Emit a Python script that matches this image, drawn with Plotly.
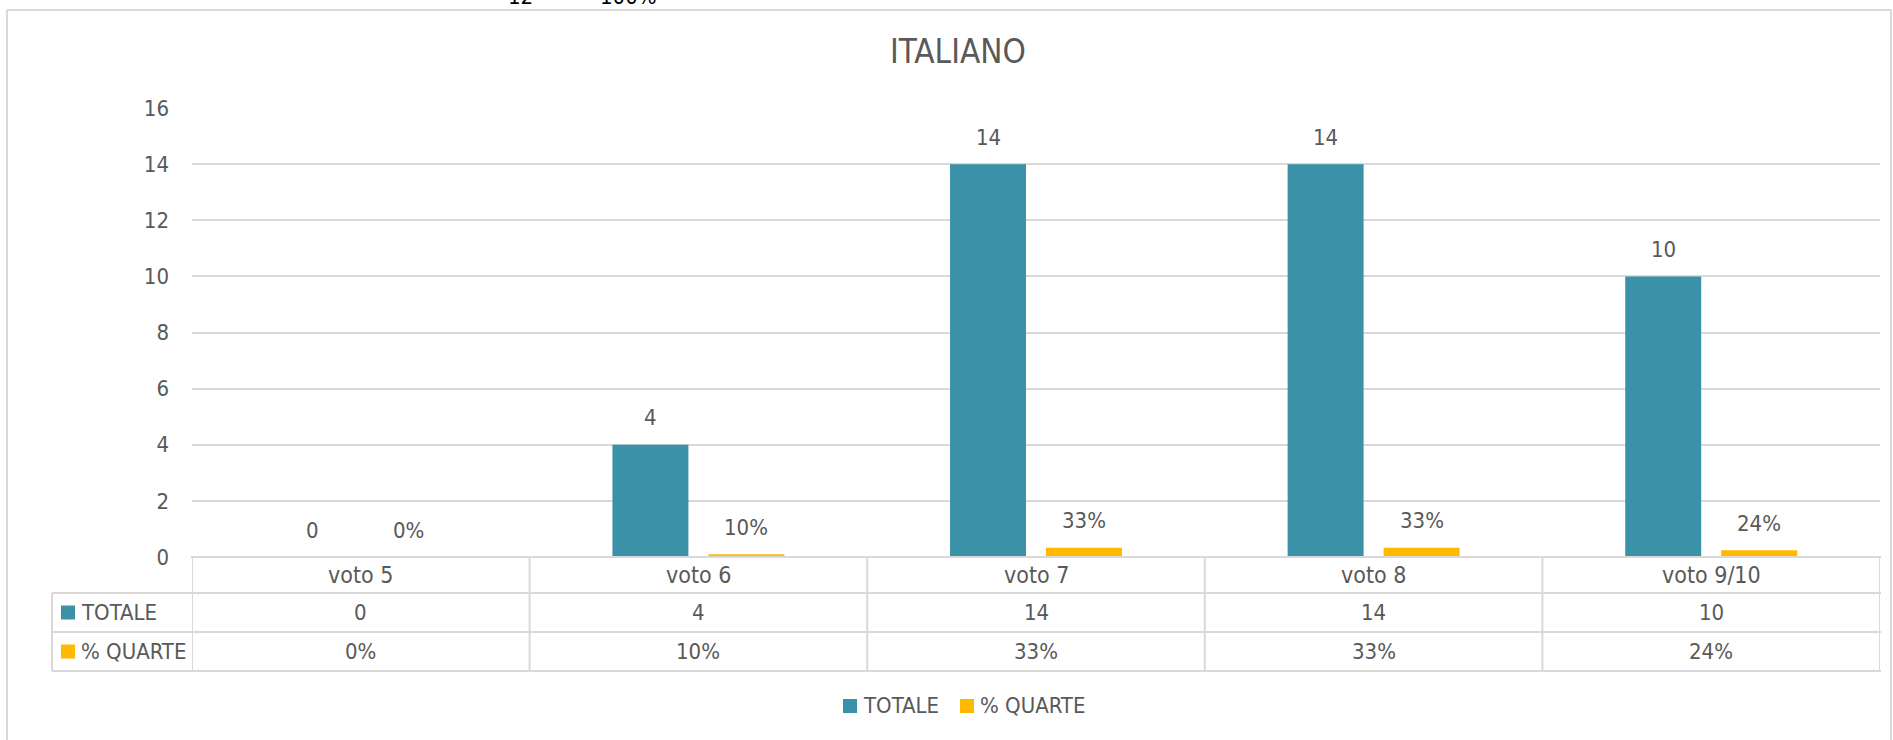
import plotly.graph_objects as go

# ---------------- data ----------------
categories = ["voto 5", "voto 6", "voto 7", "voto 8", "voto 9/10"]
totale = [0, 4, 14, 14, 10]
quarte = [0.00, 0.10, 0.33, 0.33, 0.24]
series_names = ["TOTALE", "% QUARTE"]
title_text = "ITALIANO"
y_ticks = [0, 2, 4, 6, 8, 10, 12, 14, 16]
clipped_top_texts = ["12", "100%"]

# ---------------- style ----------------
TEAL = "#3A91A8"
GOLD = "#FFB900"
GRID = "#D9D9D9"
TXT = "#595959"
NARROW = "DejaVu Sans Condensed, Liberation Sans Narrow, sans-serif"
REG = "DejaVu Sans Condensed, Liberation Sans, sans-serif"
FS = 22

W_FIG, H_FIG = 1893, 740
ML, MR, MT, MB = 192, 13, 108, 183
PW = W_FIG - ML - MR
PH = H_FIG - MT - MB


def px(x):
    return (x - ML) / PW


def py(y):
    return (H_FIG - MB - y) / PH


def fmt_pct(v):
    return f"{round(v * 100)}%"


fig = go.Figure()
fig.add_trace(go.Bar(x=categories, y=totale, name=series_names[0],
                     marker=dict(color=TEAL, line=dict(width=0)), showlegend=False))
fig.add_trace(go.Bar(x=categories, y=quarte, name=series_names[1],
                     marker=dict(color=GOLD, line=dict(width=0)), showlegend=False))

ann = []
shapes = []

# data labels
for c, v in zip(categories, totale):
    ann.append(dict(x=c, y=v, xref="x", yref="y", xshift=-48, yshift=27, yanchor="middle",
                    text=str(v), showarrow=False, font=dict(family=NARROW, size=FS, color=TXT)))
for c, v in zip(categories, quarte):
    ann.append(dict(x=c, y=v, xref="x", yref="y", xshift=48, yshift=27, yanchor="middle",
                    text=fmt_pct(v), showarrow=False, font=dict(family=NARROW, size=FS, color=TXT)))

# title
ann.append(dict(x=px(957.5), y=py(51), xref="paper", yref="paper", text=title_text,
                showarrow=False, xanchor="center", yanchor="middle",
                font=dict(family=NARROW, size=33, color=TXT)))

# text from the cells above the chart, cut by the top edge as in the reference
for t, xc in zip(clipped_top_texts, [520, 628]):
    ann.append(dict(x=px(xc), y=py(11), xref="paper", yref="paper", text=t, showarrow=False,
                    xanchor="center", yanchor="bottom",
                    font=dict(family=REG, size=22, color="#000000")))

# ---------- data table ----------
row_y = {"head": 575, "r1": 612.5, "r2": 651.5}
for i, c in enumerate(categories):
    ann.append(dict(x=c, y=py(row_y["head"]), xref="x", yref="paper", text=c, showarrow=False,
                    yanchor="middle", font=dict(family=REG, size=23, color=TXT)))
    ann.append(dict(x=c, y=py(row_y["r1"]), xref="x", yref="paper", text=str(totale[i]),
                    showarrow=False, yanchor="middle", font=dict(family=NARROW, size=FS, color=TXT)))
    ann.append(dict(x=c, y=py(row_y["r2"]), xref="x", yref="paper", text=fmt_pct(quarte[i]),
                    showarrow=False, yanchor="middle", font=dict(family=NARROW, size=FS, color=TXT)))

line_style = dict(color=GRID, width=2)
# horizontal lines
shapes.append(dict(type="line", xref="paper", yref="paper", x0=px(191), x1=px(1881),
                   y0=py(557), y1=py(557), line=line_style))
for yy in [593, 632, 671]:
    shapes.append(dict(type="line", xref="paper", yref="paper", x0=px(52), x1=px(1881),
                       y0=py(yy), y1=py(yy), line=line_style))
# vertical lines
shapes.append(dict(type="line", xref="paper", yref="paper", x0=px(52), x1=px(52),
                   y0=py(593), y1=py(671), line=line_style))
for k in range(len(categories) + 1):
    shapes.append(dict(type="line", xref="x", yref="paper", x0=k - 0.5, x1=k - 0.5,
                       y0=py(557), y1=py(671), line=line_style))

# row headers with colour keys
for name, col, yc in [(series_names[0], TEAL, row_y["r1"]), (series_names[1], GOLD, row_y["r2"])]:
    shapes.append(dict(type="rect", xref="paper", yref="paper", x0=px(61), x1=px(75),
                       y0=py(yc + 7), y1=py(yc - 7), fillcolor=col, line=dict(width=0)))
    ann.append(dict(x=px(79), y=py(yc), xref="paper", yref="paper", text=name, showarrow=False,
                    xanchor="left", yanchor="middle", font=dict(family=NARROW, size=FS, color=TXT)))

# bottom legend
for name, col, x0 in [(series_names[0], TEAL, 843), (series_names[1], GOLD, 960)]:
    shapes.append(dict(type="rect", xref="paper", yref="paper", x0=px(x0), x1=px(x0 + 14),
                       y0=py(713), y1=py(699), fillcolor=col, line=dict(width=0)))
    ann.append(dict(x=px(x0 + 18), y=py(705), xref="paper", yref="paper", text=name,
                    showarrow=False, xanchor="left", yanchor="middle",
                    font=dict(family=NARROW, size=FS, color=TXT)))

# chart frame
frame = dict(color=GRID, width=2)
shapes.append(dict(type="line", xref="paper", yref="paper", x0=px(7), x1=px(1891),
                   y0=py(10), y1=py(10), line=frame))
shapes.append(dict(type="line", xref="paper", yref="paper", x0=px(7), x1=px(7),
                   y0=py(10), y1=py(745), line=frame))
shapes.append(dict(type="line", xref="paper", yref="paper", x0=px(1891), x1=px(1891),
                   y0=py(10), y1=py(745), line=frame))

fig.update_layout(
    width=W_FIG, height=H_FIG,
    margin=dict(l=ML, r=MR, t=MT, b=MB, autoexpand=False),
    paper_bgcolor="white", plot_bgcolor="white",
    barmode="group", bargap=0.4315, bargroupgap=0.2083,
    showlegend=False,
    annotations=ann, shapes=shapes,
    xaxis=dict(type="category", range=[-0.5, len(categories) - 0.5], showticklabels=False,
               showgrid=False, zeroline=False, showline=False, ticks=""),
    yaxis=dict(range=[0, 16], tickvals=y_ticks, showgrid=True, gridcolor=GRID, gridwidth=1.5,
               zeroline=False, showline=False, ticks="", ticklabelstandoff=22,
               tickfont=dict(family=NARROW, size=FS, color=TXT), automargin=False),
)

fig.write_html(
    "out.html",
    config={"displayModeBar": False},
    post_script="document.body.style.margin='0';document.body.style.overflow='hidden';",
)
